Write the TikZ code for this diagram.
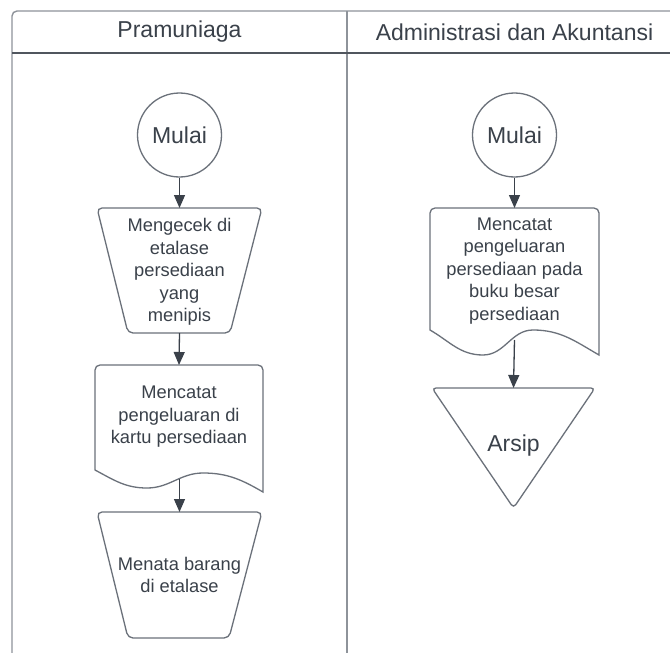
\documentclass[tikz,border=0pt]{standalone}
\usepackage{fontspec}
\setmainfont{Liberation Sans}
\usetikzlibrary{arrows.meta,calc}
\definecolor{txt}{HTML}{3A414A}
\definecolor{edge}{HTML}{6B717A}
\definecolor{lanec}{HTML}{8E939A}
\definecolor{hdrc}{HTML}{50565E}
\begin{document}
\begin{tikzpicture}[x=1pt,y=-1pt,
  lbl/.style={text=txt, align=center, inner sep=0pt, font=\fontsize{18.3}{22.5}\selectfont},
  big/.style={text=txt, font=\fontsize{23}{26}\selectfont},
  hdrtext/.style={text=txt, font=\fontsize{23}{26}\selectfont},
  outline/.style={draw=edge, line width=1.3pt},
  lanebox/.style={draw=lanec, line width=1.4pt},
  box/.style={inner sep=0pt, outer sep=0pt},
  flow/.style={draw=txt, line width=1.3pt, -{Triangle[length=13pt,width=11pt]}},
]
\useasboundingbox (0,0) rectangle (670,653);
\fill[white] (0,0) rectangle (670,653);
\clip (0,0) rectangle (670,653);

% swimlanes
\draw[lanebox, rounded corners=5pt] (12,700) -- (12,11) -- (720,11);
\draw[lanebox] (347,11) -- (347,700);
\draw[draw=hdrc, line width=1.3pt] (12,53) -- (720,53);
\node[hdrtext] (h1) at (179.5,32) {Pramuniaga};
\node[hdrtext] (h2) at (514.5,32) {Administrasi dan Akuntansi};

% ---- Pramuniaga lane ----
\node[circle, outline, big, minimum size=84pt, inner sep=0pt] (m1) at (179.5,135) {Mulai};

\node[box, minimum width=165pt, minimum height=125pt] (t1) at (179.5,270.5) {};
\draw[outline, rounded corners=5pt] (t1.north west) -- (t1.north east)
  -- ([xshift=-32pt]t1.south east) -- ([xshift=31pt]t1.south west) -- cycle;
\node[lbl] (t1t) at (179.5,272) {Mengecek di\\etalase\\persediaan\\yang\\menipis};

\node[box, minimum width=168pt, minimum height=127pt] (d1) at (179,428.5) {};
\draw[outline] (95,470) [rounded corners=5pt] -- (d1.north west) -- (d1.north east)
  -- (263,440) [sharp corners] -- (263,492)
  to[out=150,in=0] (203,473) to[out=180,in=0] (147,488) to[out=180,in=-28] (95,470) -- cycle;
\node[lbl] (d1t) at (179,417) {Mencatat\\pengeluaran di\\kartu persediaan};
\coordinate (d1w) at (179.5,479);

\node[box, minimum width=165pt, minimum height=126pt] (t2) at (179.5,575) {};
\draw[outline, rounded corners=5pt] (t2.north west) -- (t2.north east)
  -- ([xshift=-33pt]t2.south east) -- ([xshift=31pt]t2.south west) -- cycle;
\node[lbl] (t2t) at (179.5,575) {Menata barang\\di etalase};

\draw[flow] (m1.south) -- (t1.north);
\draw[flow] (t1.south) -- (d1.north);
\draw[flow] (d1w) -- (t2.north);

% ---- Administrasi dan Akuntansi lane ----
\node[circle, outline, big, minimum size=84pt, inner sep=0pt] (m2) at (514.5,135) {Mulai};

\node[box, minimum width=169pt, minimum height=147pt] (d2) at (514.5,281.5) {};
\draw[outline] (430,330) [rounded corners=5pt] -- (d2.north west) -- (d2.north east)
  -- (599,300) [sharp corners] -- (599,355)
  to[out=150,in=0] (533,330) to[out=180,in=0] (483,355) to[out=180,in=-30] (430,330) -- cycle;
\node[lbl] (d2t) at (514.5,271) {Mencatat\\pengeluaran\\persediaan pada\\buku besar\\persediaan};
\coordinate (d2w) at (514.5,340);

\node[box, minimum width=163pt, minimum height=120pt] (a1) at (513.5,448) {};
\draw[outline, rounded corners=4pt] (a1.north west) -- (a1.north east) -- (a1.south) -- cycle;
\node[big, inner sep=0pt] (a1t) at (513.5,446) {Arsip};

\draw[flow] (m2.south) -- (d2.north);
\draw[flow] (d2w) -- (a1.north);
\end{tikzpicture}
\end{document}
